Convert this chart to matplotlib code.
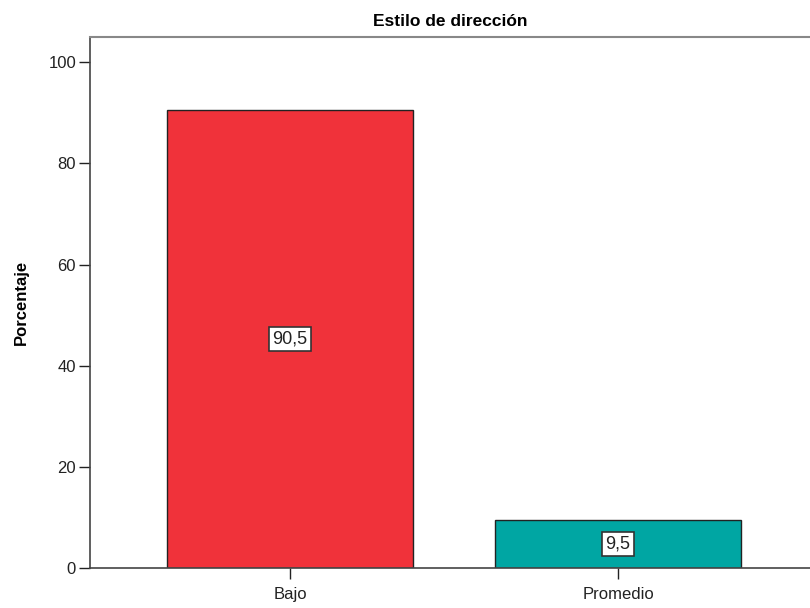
import numpy as np
import matplotlib
matplotlib.use("Agg")
from matplotlib import pyplot as plt

plt.rcParams['font.family'] = ['Liberation Sans', 'DejaVu Sans']

categories = ["Bajo", "Promedio"]
values = [90.5, 9.5]
labels = ["90,5", "9,5"]
colors = ["#f0323a", "#00a6a3"]
title = "Estilo de dirección"
ylabel = "Porcentaje"

fig = plt.figure(figsize=(8.1, 6.08), dpi=100)
fig.patch.set_facecolor("white")
ax = fig.add_axes([0.111, 0.066, 0.889, 0.873])

x = np.arange(len(categories))
bars = ax.bar(x, values, width=0.75, color=colors, edgecolor="#222222", linewidth=1.0, zorder=2)

for b, lab in zip(bars, labels):
    ax.text(b.get_x() + b.get_width() / 2, b.get_height() / 2, lab,
            ha="center", va="center", fontsize=13, color="#222222", zorder=3,
            bbox=dict(boxstyle="square,pad=0.2", facecolor="white", edgecolor="#333333", linewidth=1.2))

ax.set_xlim(-0.61, 1.585)
ax.set_ylim(0, 105)
ax.set_yticks([0, 20, 40, 60, 80, 100])
ax.set_xticks(x)
ax.set_xticklabels(categories)
ax.tick_params(axis="both", labelsize=12, colors="#222222", length=8, width=1.0)
ax.tick_params(axis="x", length=8, pad=6)
ax.tick_params(axis="y", pad=2)

ax.spines["right"].set_visible(False)
for s in ["left", "bottom"]:
    ax.spines[s].set_color("#444444")
    ax.spines[s].set_linewidth(1.2)
ax.spines["top"].set_color("#888888")
ax.spines["top"].set_linewidth(1.5)

ax.set_title(title, fontsize=12.5, fontweight="bold", pad=8)
ax.set_ylabel(ylabel, fontsize=12, fontweight="bold", labelpad=14)

fig.savefig("out.png", dpi=100)
